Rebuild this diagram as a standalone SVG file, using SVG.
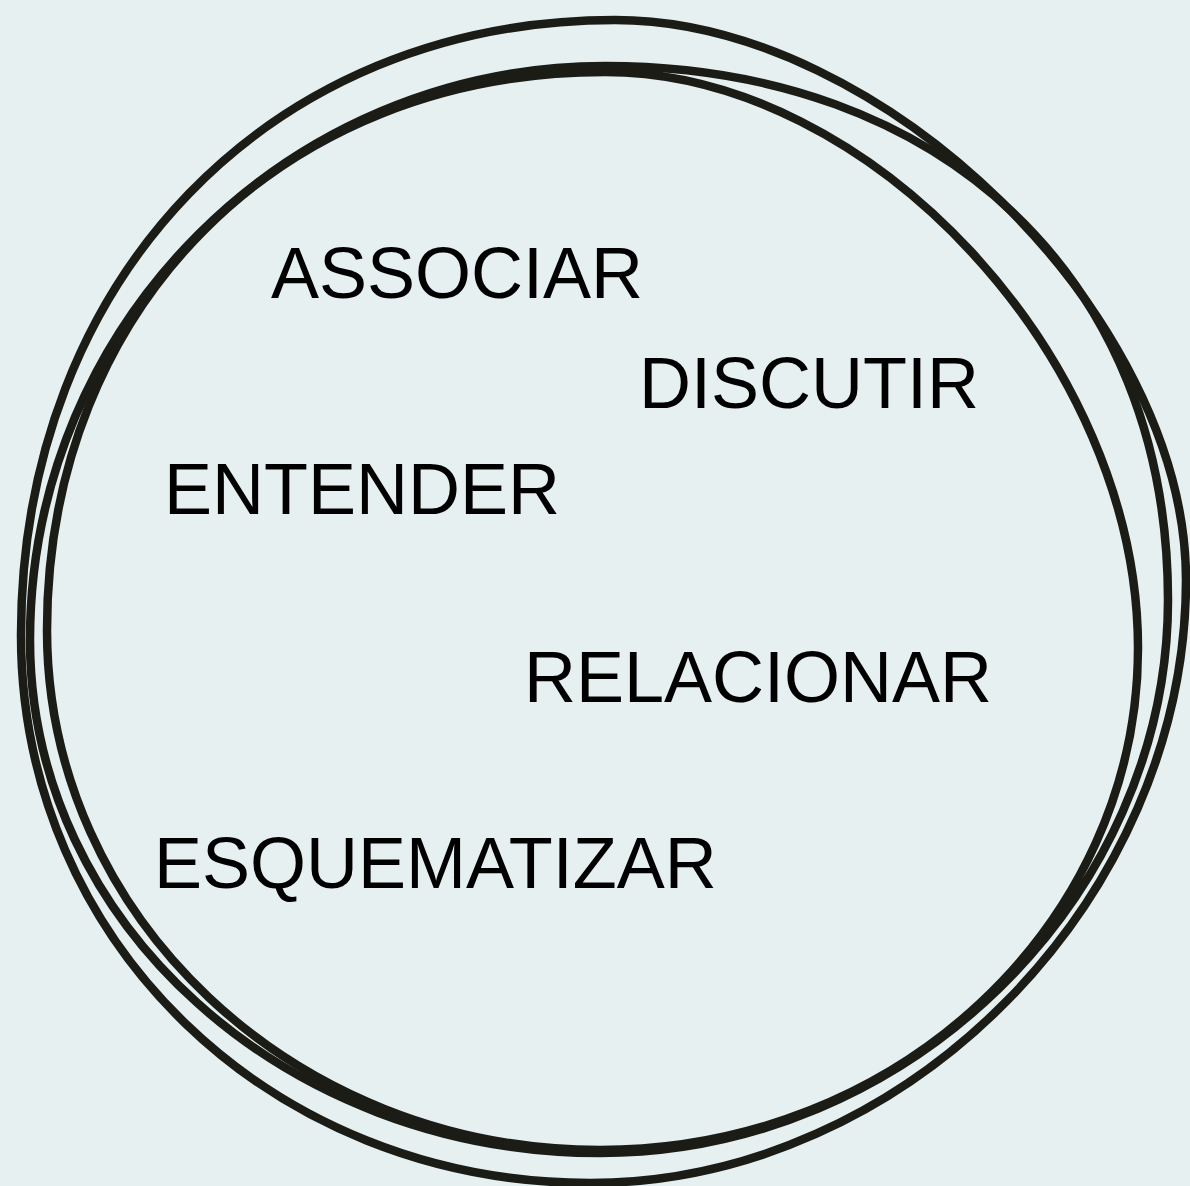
<svg xmlns="http://www.w3.org/2000/svg" width="1190" height="1186" viewBox="0 0 1190 1186">
<style>
.loop{fill:none;stroke:#1c1c17;stroke-width:8.5;stroke-linejoin:round;stroke-linecap:round}
.lbl{font-family:"Liberation Sans",Arial,sans-serif;font-size:72px;fill:#000}
</style>
<rect x="0" y="0" width="1190" height="1186" fill="#e6f0f1"/>
<g id="loops">
<path id="loop1" class="loop" d="M615,20 C883.4,20 1186,316.8 1186,580 C1186,899.6 905.9,1183 590,1183 C271.4,1183 21,941.9 21,635 C21,278.3 270.5,20 615,20 Z"/>
<path id="loop2" class="loop" d="M605,66 C942.8,66 1168,279.6 1168,600 C1168,898.6 906.7,1153 600,1153 C285.4,1153 30,923.2 30,640 C30,323.2 287.6,66 605,66 Z"/>
<path id="loop3" class="loop" d="M605,72 C871.5,72 1138,360 1138,648 C1138,925.1 897,1150 600,1150 C294.7,1150 47,917 47,630 C47,306.4 281.4,72 605,72 Z"/>
</g>
<g id="n-associar"><text class="lbl" x="271" y="298">ASSOCIAR</text></g>
<g id="n-discutir"><text class="lbl" x="639" y="408">DISCUTIR</text></g>
<g id="n-entender"><text class="lbl" x="164" y="514">ENTENDER</text></g>
<g id="n-relacionar"><text class="lbl" x="524" y="702">RELACIONAR</text></g>
<g id="n-esquematizar"><text class="lbl" x="154" y="888">ESQUEMATIZAR</text></g>
</svg>
